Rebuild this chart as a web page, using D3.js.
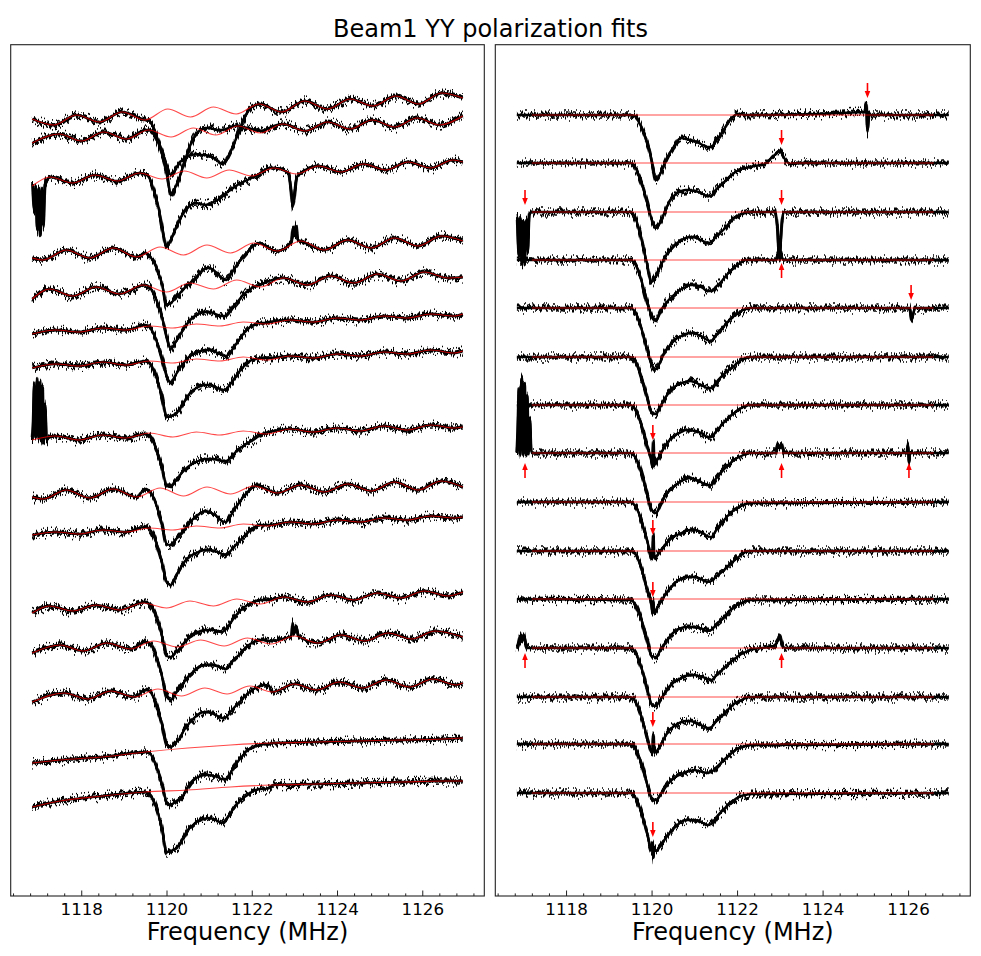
<!DOCTYPE html>
<html><head><meta charset="utf-8">
<script src="https://cdn.jsdelivr.net/npm/d3@7"></script>
<style>body{margin:0;background:#fff;}svg{display:block;font-family:"DejaVu Sans",sans-serif;}</style>
</head><body><svg id="chart" width="981" height="956"></svg>
<script>
// ---------------- DATA ----------------
const chartTitle = "Beam1 YY polarization fits";
const xLabel = "Frequency (MHz)";
const freqStart = 1116.85, freqEnd = 1126.95;
const xDomain = [1116.345, 1127.455];
const majorTicks = [1118, 1120, 1122, 1124, 1126];
// absorption region sampling grid (MHz)
const dipFreqs = [1119.5,1119.6,1119.7,1119.8,1119.9,1120.0,1120.1,1120.2,1120.3,1120.4,1120.5,1120.6,1120.7,1120.8,1120.9,1121.0,1121.1,1121.2,1121.3,1121.4,1121.5,1121.6,1121.7,1121.8,1121.9,1122.0,1122.1,1122.2,1122.3,1122.4];

// LEFT PANEL: trace offsets (arbitrary units)
const leftOffsets = [78.2,76.3,72.0,64.6,60.6,57.1,53.6,46.2,40.5,36.8,29.3,25.5,20.6,14.6,10.3];
// LEFT PANEL: baseline fit (ripple) knots [freq, value rel. to offset]
const leftFitKnots = [
 [[1116.85,-0.5],[1117.355,-1.1],[1117.89,-0.1],[1118.425,-0.8],[1118.96,0.2],[1119.495,-0.6],[1120.03,0.5],[1120.565,-0.3],[1121.1,0.7],[1121.635,0.0],[1122.17,1.0],[1122.705,0.2],[1123.24,1.3],[1123.775,0.5],[1124.31,1.5],[1124.845,0.8],[1125.38,1.8],[1125.915,1.0],[1126.45,2.1],[1126.95,1.6]],
 [[1116.85,-1.0],[1117.48,-0.1],[1118.005,-0.8],[1118.53,0.1],[1119.055,-0.6],[1119.58,0.3],[1120.105,-0.4],[1120.63,0.5],[1121.155,-0.2],[1121.68,0.7],[1122.205,0.0],[1122.73,0.9],[1123.255,0.2],[1123.78,1.1],[1124.305,0.4],[1124.83,1.3],[1125.355,0.6],[1125.88,1.5],[1126.405,0.8],[1126.95,1.7]],
 [[1116.85,-1.0],[1117.27,-0.1],[1117.795,-0.7],[1118.32,0.1],[1118.845,-0.5],[1119.37,0.3],[1119.895,-0.3],[1120.42,0.5],[1120.945,-0.2],[1121.47,0.6],[1121.995,0.0],[1122.52,0.8],[1123.045,0.2],[1123.57,1.0],[1124.095,0.4],[1124.62,1.2],[1125.145,0.6],[1125.67,1.4],[1126.195,0.8],[1126.72,1.6],[1126.95,1.4]],
 [[1116.85,-0.8],[1117.1,-1.0],[1117.65,0.0],[1118.2,-0.8],[1118.75,0.2],[1119.3,-0.7],[1119.85,0.3],[1120.4,-0.5],[1120.95,0.5],[1121.5,-0.3],[1122.05,0.7],[1122.6,-0.1],[1123.15,0.9],[1123.7,0.0],[1124.25,1.0],[1124.8,0.2],[1125.35,1.2],[1125.9,0.4],[1126.45,1.4],[1126.95,0.9]],
 [[1116.85,-0.9],[1117.26,0.1],[1117.8,-0.6],[1118.35,0.3],[1118.9,-0.4],[1119.45,0.5],[1120.0,-0.2],[1120.55,0.7],[1121.1,0.1],[1121.65,1.0],[1122.2,0.3],[1122.75,1.2],[1123.3,0.5],[1123.85,1.4],[1124.4,0.7],[1124.95,1.6],[1125.5,0.9],[1126.05,1.8],[1126.6,1.2],[1126.95,1.3]],
 [[1116.85,-0.9],[1117.4,-0.5],[1117.95,-0.7],[1118.5,-0.3],[1119.05,-0.5],[1119.6,-0.1],[1120.15,-0.3],[1120.7,0.1],[1121.25,-0.1],[1121.8,0.3],[1122.35,0.1],[1122.9,0.5],[1123.45,0.3],[1124.0,0.7],[1124.55,0.5],[1125.1,0.9],[1125.65,0.7],[1126.2,1.1],[1126.75,0.9],[1126.95,1.1]],
 [[1116.85,-0.8],[1117.4,-0.4],[1117.95,-0.6],[1118.5,-0.2],[1119.05,-0.5],[1119.6,-0.1],[1120.15,-0.3],[1120.7,0.1],[1121.25,-0.1],[1121.8,0.3],[1122.35,0.0],[1122.9,0.4],[1123.45,0.2],[1124.0,0.6],[1124.55,0.4],[1125.1,0.8],[1125.65,0.6],[1126.2,1.0],[1126.75,0.7],[1126.95,0.9]],
 [[1116.85,-0.6],[1117.4,-0.2],[1117.95,-0.6],[1118.5,-0.1],[1119.05,-0.4],[1119.6,0.1],[1120.15,-0.3],[1120.7,0.2],[1121.25,-0.1],[1121.8,0.3],[1122.35,0.0],[1122.9,0.5],[1123.45,0.2],[1124.0,0.6],[1124.55,0.3],[1125.1,0.8],[1125.65,0.4],[1126.2,0.9],[1126.75,0.6],[1126.95,0.7]],
 [[1116.85,-0.6],[1117.1,-0.8],[1117.65,0.1],[1118.2,-0.7],[1118.75,0.2],[1119.3,-0.6],[1119.85,0.3],[1120.4,-0.5],[1120.95,0.4],[1121.5,-0.3],[1122.05,0.5],[1122.6,-0.2],[1123.15,0.6],[1123.7,-0.1],[1124.25,0.7],[1124.8,0.0],[1125.35,0.9],[1125.9,0.1],[1126.45,1.0],[1126.95,0.4]],
 [[1116.85,-0.7],[1117.4,-0.4],[1117.95,-0.6],[1118.5,-0.2],[1119.05,-0.4],[1119.6,0.0],[1120.15,-0.2],[1120.7,0.2],[1121.25,0.0],[1121.8,0.4],[1122.35,0.2],[1122.9,0.6],[1123.45,0.4],[1124.0,0.8],[1124.55,0.6],[1125.1,1.0],[1125.65,0.8],[1126.2,1.2],[1126.75,1.0],[1126.95,1.1]],
 [[1116.85,-1.0],[1117.25,-0.3],[1117.8,-0.8],[1118.35,-0.2],[1118.9,-0.7],[1119.45,0.0],[1120.0,-0.5],[1120.55,0.2],[1121.1,-0.3],[1121.65,0.4],[1122.2,-0.1],[1122.75,0.6],[1123.3,0.1],[1123.85,0.8],[1124.4,0.3],[1124.95,1.0],[1125.5,0.5],[1126.05,1.2],[1126.6,0.7],[1126.95,1.1]],
 [[1116.85,-1.2],[1117.5,-0.4],[1118.05,-1.0],[1118.6,-0.2],[1119.15,-0.8],[1119.7,0.0],[1120.25,-0.6],[1120.8,0.1],[1121.35,-0.5],[1121.9,0.3],[1122.45,-0.3],[1123.0,0.5],[1123.55,-0.2],[1124.1,0.6],[1124.65,0.0],[1125.2,0.8],[1125.75,0.2],[1126.3,1.0],[1126.95,0.4]],
 [[1116.85,-1.2],[1117.6,-0.3],[1118.15,-0.9],[1118.7,-0.1],[1119.25,-0.7],[1119.8,0.1],[1120.35,-0.6],[1120.9,0.2],[1121.42,-0.4],[1121.95,0.4],[1122.48,-0.2],[1123.0,0.6],[1123.52,0.0],[1124.05,0.8],[1124.6,0.2],[1125.15,1.0],[1125.7,0.3],[1126.25,1.1],[1126.8,0.5],[1126.95,0.7]],
 [[1116.85,-1.3],[1117.5,-1.0],[1118.5,-0.7],[1119.5,-0.2],[1120.5,0.2],[1121.5,0.5],[1122.5,0.7],[1123.5,0.8],[1124.5,0.9],[1125.5,1.0],[1126.5,1.1],[1126.95,1.2]],
 [[1116.85,-1.4],[1117.5,-0.8],[1118.5,-0.3],[1119.5,0.1],[1120.5,0.3],[1121.5,0.6],[1122.5,0.8],[1123.5,0.9],[1124.5,1.0],[1125.5,1.1],[1126.5,1.2],[1126.95,1.2]]
];
// LEFT PANEL: measured spectrum across the absorption (values at dipFreqs, rel. to offset)
const leftDips = [
 [-0.6,-0.7,-1.4,-2.6,-3.8,-5.1,-6.1,-5.6,-4.9,-4.5,-4.2,-4.1,-4.0,-4.1,-4.1,-4.2,-4.4,-4.7,-5.0,-4.6,-3.8,-2.8,-1.7,-0.6,0.2,0.7,0.9,1.0,0.9,0.7],
 [0.3,0.3,-0.1,-0.9,-2.2,-3.9,-6.2,-5.5,-4.5,-3.2,-1.9,-0.8,-0.1,0.3,0.5,0.5,0.4,0.3,0.3,0.4,0.6,0.7,0.7,0.6,0.5,0.4,0.3,0.2,0.3,0.5],
 [0.2,-0.2,-1.4,-2.9,-5.2,-7.1,-6.4,-5.4,-4.4,-3.7,-3.2,-2.8,-2.7,-2.8,-2.9,-2.8,-2.6,-2.4,-2.1,-1.7,-1.4,-1.1,-0.8,-0.6,-0.4,-0.2,0.0,0.3,0.6,0.8],
 [-0.3,-0.6,-1.2,-2.2,-3.5,-5.5,-5.3,-4.9,-4.4,-3.9,-3.5,-3.1,-2.7,-2.2,-1.9,-1.8,-2.0,-2.4,-2.8,-3.0,-2.5,-1.8,-1.2,-0.7,-0.2,0.3,0.6,0.7,0.5,0.2],
 [0.5,0.3,-0.4,-1.4,-2.8,-4.6,-5.9,-5.3,-4.6,-3.9,-3.3,-2.8,-2.5,-2.3,-2.2,-2.2,-2.3,-2.5,-2.6,-2.6,-2.1,-1.5,-1.0,-0.5,-0.1,0.2,0.4,0.5,0.7,0.9],
 [0.0,-0.2,-0.9,-2.0,-3.4,-5.1,-5.7,-5.1,-4.4,-3.8,-3.3,-3.0,-2.8,-2.6,-2.5,-2.5,-2.6,-2.8,-3.0,-3.1,-2.7,-2.1,-1.5,-0.9,-0.4,-0.1,0.1,0.2,0.2,0.3],
 [-0.1,-0.3,-1.0,-2.2,-3.8,-5.7,-5.6,-5.4,-5.0,-4.3,-3.6,-3.1,-2.8,-2.6,-2.5,-2.5,-2.6,-2.8,-3.0,-2.9,-2.4,-1.8,-1.2,-0.7,-0.3,0.0,0.1,0.2,0.2,0.2],
 [0.0,-0.2,-0.9,-2.0,-3.4,-5.2,-5.3,-4.7,-4.2,-3.7,-3.3,-3.0,-2.8,-2.6,-2.5,-2.5,-2.5,-2.6,-2.7,-2.7,-2.4,-1.9,-1.5,-1.2,-0.9,-0.7,-0.4,-0.1,0.1,0.2],
 [0.2,0.0,-0.7,-1.9,-3.4,-5.3,-5.4,-4.9,-4.5,-4.0,-3.4,-2.9,-2.5,-2.2,-2.0,-2.1,-2.3,-2.6,-3.0,-3.1,-2.5,-1.8,-1.2,-0.6,-0.1,0.3,0.5,0.5,0.3,0.1],
 [0.1,-0.1,-0.8,-2.0,-3.5,-5.4,-5.7,-5.0,-4.2,-3.5,-3.0,-2.7,-2.5,-2.3,-2.2,-2.2,-2.3,-2.4,-2.6,-2.7,-2.3,-1.8,-1.4,-0.9,-0.5,-0.1,0.2,0.3,0.3,0.3],
 [0.1,-0.1,-0.8,-1.9,-3.4,-5.3,-5.4,-5.0,-4.6,-4.1,-3.6,-3.3,-3.0,-2.8,-2.7,-2.7,-2.7,-2.8,-2.9,-2.6,-2.0,-1.4,-0.9,-0.5,-0.2,0.0,0.2,0.3,0.3,0.3],
 [-0.1,-0.2,-0.9,-2.1,-3.6,-5.5,-5.9,-5.3,-4.8,-4.2,-3.6,-3.2,-2.8,-2.5,-2.4,-2.4,-2.4,-2.5,-2.7,-2.8,-2.3,-1.8,-1.4,-0.9,-0.5,-0.2,0.0,0.1,0.1,0.0],
 [0.0,-0.1,-0.8,-2.0,-3.5,-5.4,-5.7,-5.3,-4.9,-4.1,-3.5,-3.0,-2.6,-2.3,-2.2,-2.2,-2.4,-2.6,-2.8,-2.7,-2.2,-1.7,-1.3,-0.8,-0.4,0.0,0.2,0.4,0.5,0.4],
 [-0.2,-0.3,-1.0,-2.1,-3.5,-5.2,-5.5,-5.2,-4.9,-4.5,-3.7,-3.1,-2.8,-2.6,-2.5,-2.5,-2.6,-2.7,-2.9,-2.9,-2.3,-1.6,-1.0,-0.5,0.0,0.2,0.4,0.5,0.6,0.6],
 [0.1,-0.1,-0.8,-2.0,-3.7,-5.9,-5.8,-5.6,-5.2,-4.5,-3.7,-3.3,-2.9,-2.7,-2.6,-2.5,-2.6,-2.8,-3.0,-2.6,-2.0,-1.4,-0.9,-0.5,-0.2,0.1,0.3,0.4,0.4,0.5]
];
// LEFT PANEL: narrow RFI features [freq, value rel. to offset]
const leftFeatures = [
 [], [],
 [[[1116.86,-0.8],[1116.9,-3.6],[1116.93,-1.0],[1116.97,-5.4],[1117.0,-1.2],[1117.04,-6.0],[1117.08,-1.4],[1117.11,-5.0],[1117.15,-0.8]],
  [[1122.86,0.3],[1122.92,-1.4],[1122.96,-3.1],[1123.0,-2.0],[1123.05,-0.2],[1123.1,0.1]]],
 [[[1122.93,0.8],[1122.97,2.2],[1123.0,1.4],[1123.04,2.4],[1123.08,1.0]]],
 [], [], [],
 [[[1116.87,0.9],[1116.9,4.9],[1116.93,-0.4],[1116.96,5.6],[1117.0,-0.6],[1117.03,5.2],[1117.06,-0.7],[1117.09,4.6],[1117.12,-0.8],[1117.15,2.9],[1117.19,-0.6],[1117.23,-0.4]]],
 [], [], [],
 [[[1122.93,0.5],[1122.96,1.8],[1123.0,0.9],[1123.04,1.5],[1123.1,0.5]]],
 [], [], []
];

// RIGHT PANEL: trace offsets (flat baseline fits)
const rightOffsets = [78.1,73.3,68.4,63.6,58.8,53.9,49.1,44.3,39.4,34.5,29.7,24.8,19.9,15.2,10.3];
const rightFitStart = 1117.2, rightFitEnd = 1126.6;
const rightDips = [
 [0.0,-0.1,-0.7,-1.6,-2.8,-4.5,-6.5,-5.9,-4.9,-4.0,-3.3,-2.6,-2.3,-2.4,-2.5,-2.6,-2.8,-3.0,-3.2,-3.2,-2.6,-2.1,-1.4,-0.7,-0.2,0.1,0.1,0.0,0.0,0.0],
 [0.0,-0.3,-1.2,-2.5,-4.0,-5.6,-6.5,-6.0,-5.0,-4.0,-3.4,-3.0,-2.8,-2.7,-2.7,-2.8,-2.9,-3.1,-3.3,-3.3,-2.7,-2.3,-1.9,-1.5,-1.1,-0.8,-0.6,-0.5,-0.4,-0.3],
 [0.0,-0.4,-1.6,-3.4,-5.3,-7.0,-6.4,-5.5,-4.6,-4.0,-3.5,-3.1,-2.8,-2.6,-2.5,-2.5,-2.7,-2.9,-3.1,-3.0,-2.5,-2.1,-1.7,-1.2,-0.7,-0.4,-0.2,-0.1,0.0,0.0],
 [0.0,-0.3,-1.2,-2.6,-4.2,-5.6,-6.1,-5.2,-4.5,-4.0,-3.6,-3.2,-2.9,-2.7,-2.5,-2.5,-2.6,-2.8,-3.1,-3.1,-2.7,-2.3,-1.8,-1.3,-0.9,-0.5,-0.2,0.0,0.0,0.0],
 [0.0,-0.3,-1.2,-2.6,-4.2,-5.6,-6.1,-5.4,-4.5,-3.9,-3.4,-3.0,-2.8,-2.6,-2.5,-2.5,-2.7,-2.9,-3.2,-3.3,-2.8,-2.3,-1.8,-1.3,-0.9,-0.6,-0.3,-0.1,0.0,0.0],
 [0.0,-0.3,-1.2,-2.6,-4.1,-5.5,-5.7,-5.0,-4.2,-3.6,-3.1,-2.8,-2.6,-2.5,-2.4,-2.5,-2.7,-2.9,-3.1,-3.1,-2.6,-2.1,-1.7,-1.3,-1.0,-0.6,-0.3,-0.1,0.0,0.0],
 [0.0,-0.3,-1.2,-2.6,-4.2,-5.7,-5.7,-5.0,-4.2,-3.6,-3.2,-2.9,-2.7,-2.5,-2.5,-2.6,-2.7,-2.9,-3.2,-3.2,-2.7,-2.2,-1.7,-1.3,-0.9,-0.6,-0.3,-0.1,0.0,0.0],
 [0.0,-0.3,-1.2,-2.6,-4.2,-5.7,-6.0,-5.2,-4.4,-3.8,-3.4,-3.1,-2.8,-2.6,-2.5,-2.6,-2.8,-3.0,-3.2,-3.2,-2.6,-2.1,-1.6,-1.2,-0.8,-0.5,-0.3,-0.1,0.0,0.0],
 [0.0,-0.3,-1.1,-2.4,-3.9,-5.5,-5.5,-4.9,-4.4,-3.9,-3.5,-3.3,-3.1,-2.9,-2.8,-2.8,-2.9,-3.1,-3.4,-3.5,-2.9,-2.3,-1.8,-1.3,-0.9,-0.6,-0.4,-0.2,-0.1,-0.1],
 [0.0,-0.2,-1.0,-2.3,-3.9,-5.5,-5.9,-5.2,-4.5,-3.9,-3.4,-3.0,-2.8,-2.6,-2.6,-2.6,-2.7,-2.9,-3.1,-3.0,-2.6,-2.2,-1.9,-1.5,-1.1,-0.7,-0.4,-0.1,0.0,0.0],
 [-0.1,-0.4,-1.3,-2.6,-4.2,-5.7,-5.8,-5.2,-4.5,-3.9,-3.4,-3.1,-2.9,-2.8,-2.8,-2.8,-2.9,-3.0,-3.2,-3.1,-2.6,-2.2,-1.8,-1.3,-0.9,-0.6,-0.4,-0.2,-0.1,-0.1],
 [0.0,-0.3,-1.2,-2.5,-4.1,-5.6,-5.8,-5.2,-4.6,-4.0,-3.5,-3.2,-3.0,-2.8,-2.7,-2.7,-2.8,-2.9,-3.1,-3.2,-2.8,-2.4,-2.0,-1.6,-1.2,-0.9,-0.6,-0.4,-0.2,-0.1],
 [0.0,-0.3,-1.2,-2.5,-4.1,-5.5,-5.5,-4.9,-4.1,-3.4,-3.0,-2.7,-2.5,-2.4,-2.4,-2.5,-2.7,-2.9,-3.1,-3.0,-2.5,-2.1,-1.7,-1.2,-0.8,-0.5,-0.3,-0.1,0.0,0.0],
 [0.0,-0.3,-1.2,-2.5,-4.1,-5.4,-5.6,-5.1,-4.5,-3.9,-3.5,-3.2,-3.0,-2.8,-2.7,-2.6,-2.7,-2.8,-2.9,-2.8,-2.4,-2.0,-1.6,-1.2,-0.8,-0.5,-0.3,-0.2,-0.1,-0.1],
 [0.0,-0.3,-1.2,-2.5,-4.1,-5.7,-5.8,-5.3,-4.7,-4.1,-3.6,-3.2,-2.9,-2.7,-2.7,-2.7,-2.8,-3.0,-3.2,-3.1,-2.5,-2.0,-1.6,-1.1,-0.8,-0.5,-0.3,-0.2,-0.1,-0.1]
];
const rightFeatures = [
 [[[1124.98,0.3],[1125.02,1.2],[1125.05,-1.7],[1125.09,0.0]]],
 [[[1122.6,-0.2],[1122.85,0.7],[1123.0,1.2],[1123.1,0.5],[1123.25,-0.1],[1123.4,0.0]]],
 [[[1116.86,-0.5],[1116.9,-4.5],[1116.93,-0.5],[1116.97,-5.3],[1117.0,-1.0],[1117.03,-5.0],[1117.07,-0.8],[1117.1,-4.0],[1117.14,-0.3],[1117.18,0.0]],
  [[1122.88,0.0],[1122.94,-1.5],[1122.99,-4.8],[1123.02,-3.0],[1123.06,-0.5],[1123.1,0.0]]],
 [[[1122.9,0.0],[1122.96,0.6],[1123.0,1.0],[1123.04,0.4],[1123.1,0.0]]],
 [[[1126.04,0.0],[1126.08,-1.2],[1126.12,-0.6],[1126.16,0.0]]],
 [],
 [[[1120.02,-6.1],[1120.04,-3.6],[1120.06,-6.0]]],
 [[[1116.87,2.0],[1116.9,6.5],[1116.93,-0.3],[1116.96,7.5],[1117.0,0.0],[1117.03,7.0],[1117.06,-0.2],[1117.09,5.8],[1117.12,0.0],[1117.15,3.5],[1117.19,0.0],[1117.23,0.0]],
  [[1122.9,0.0],[1122.97,0.8],[1123.0,0.5],[1123.04,0.9],[1123.1,0.0]],
  [[1125.97,0.0],[1126.0,0.9],[1126.02,-0.9],[1126.05,0.0]]],
 [[[1120.02,-5.7],[1120.04,-3.4],[1120.06,-5.6]]],
 [[[1120.02,-6.3],[1120.04,-5.0],[1120.06,-6.2]]],
 [],
 [[[1116.88,0.3],[1116.93,1.2],[1116.97,0.6],[1117.01,1.3],[1117.06,0.4],[1117.12,0.0]],
  [[1122.85,0.2],[1122.95,0.7],[1123.0,1.3],[1123.04,0.6],[1123.12,0.0]]],
 [[[1120.02,-5.6],[1120.04,-3.7],[1120.06,-5.6]]],
 [],
 [[[1120.02,-5.0],[1120.04,-6.5],[1120.06,-5.5]]]
];
// RIGHT PANEL: red marker arrows
const arrowTrace = [0,1,2,2,3,4,6,7,7,7,8,9,11,11,12,14];
const arrowFreq  = [1125.05,1123.04,1117.04,1123.04,1123.04,1126.07,1120.03,1117.04,1123.04,1126.02,1120.03,1120.03,1117.04,1123.04,1120.03,1120.03];
const arrowTip   = [1.7,1.8,0.7,0.7,-0.3,0.8,-3.5,-1.0,-1.0,-1.0,-3.3,-4.6,-0.5,-0.5,-3.0,-4.4];
const arrowDir   = ["down","down","down","down","up","down","down","up","up","up","down","down","up","up","down","down"];

// ---------------- LAYOUT ----------------
const plotTop = 44.7, plotBottom = 896;
const panels = [{x0:10.7, x1:484.3}, {x0:495.3, x1:970.3}];
const svg = d3.select("#chart");
const y = d3.scaleLinear().domain([0, 85.13]).range([plotBottom, plotTop]);

// textures for the noisy measured spectra (styling only)
const defs = svg.append("defs");
function makeNoise(id, freq, seed, slope, scale) {
  const flt = defs.append("filter").attr("id",id).attr("filterUnits","userSpaceOnUse")
    .attr("x",0).attr("y",0).attr("width",981).attr("height",956)
    .attr("color-interpolation-filters","sRGB");
  flt.append("feTurbulence").attr("type","fractalNoise").attr("baseFrequency",freq)
    .attr("numOctaves",2).attr("seed",seed).attr("result","turb");
  const ct = flt.append("feComponentTransfer").attr("in","turb").attr("result","map");
  ct.append("feFuncR").attr("type","linear").attr("slope",0).attr("intercept",0.5);
  ct.append("feFuncG").attr("type","linear").attr("slope",slope).attr("intercept",0.5 - slope*0.5);
  ct.append("feFuncA").attr("type","linear").attr("slope",0).attr("intercept",1);
  flt.append("feDisplacementMap").attr("in","SourceGraphic").attr("in2","map")
    .attr("scale",scale).attr("xChannelSelector","R").attr("yChannelSelector","G");
}
makeNoise("noiseA", "0.6 0.012", 5, 2.0, 7);
makeNoise("noiseB", "0.9 0.012", 17, 2.2, 11);

function blackPoints(offset, knots, dip, feats) {
  const spans = feats.map(g => [g[0][0]-0.015, g[g.length-1][0]+0.015]);
  const inSpan = f => spans.some(s => f >= s[0] && f <= s[1]);
  const lo = dipFreqs[0]-0.05, hi = dipFreqs[dipFreqs.length-1]+0.05;
  const pts = [];
  knots.forEach(k => { if ((k[0] < lo || k[0] > hi) && !inSpan(k[0])) pts.push(k); });
  dipFreqs.forEach((f,i) => { if (!inSpan(f)) pts.push([f, dip[i]]); });
  feats.forEach(g => g.forEach(p => pts.push(p)));
  pts.sort((a,b) => a[0]-b[0]);
  return pts.map(p => [p[0], offset + p[1]]);
}

panels.forEach((p, pi) => {
  const x = d3.scaleLinear().domain(xDomain).range([p.x0, p.x1]);
  const line = d3.line().x(d => x(d[0])).y(d => y(d[1])).curve(d3.curveMonotoneX);
  const g = svg.append("g");

  const offsets = pi === 0 ? leftOffsets : rightOffsets;
  const dips = pi === 0 ? leftDips : rightDips;
  const feats = pi === 0 ? leftFeatures : rightFeatures;
  const fits = pi === 0 ? leftFitKnots
    : offsets.map(() => [[rightFitStart, 0], [rightFitEnd, 0]]);
  const blackKnots = pi === 0 ? leftFitKnots
    : offsets.map(() => [[freqStart, 0], [freqEnd, 0]]);

  const paths = offsets.map((off, i) => line(blackPoints(off, blackKnots[i], dips[i], feats[i])));
  const layer = (filter, width) => {
    const gg = g.append("g");
    if (filter) gg.attr("filter", `url(#${filter})`);
    paths.forEach(d => gg.append("path").attr("d", d).attr("fill","none").attr("stroke","#000")
      .attr("stroke-width", width).attr("stroke-linejoin","round"));
  };
  layer(null, 2.4);        // solid core
  layer("noiseA", 3.0);    // dense jitter band
  layer("noiseB", 1.5);    // sparse spikes

  const gr = g.append("g");
  offsets.forEach((off, i) => {
    gr.append("path").attr("d", line(fits[i].map(k => [k[0], off + k[1]])))
      .attr("fill","none").attr("stroke","#ff0000").attr("stroke-opacity",0.72)
      .attr("stroke-width",1.2);
  });

  if (pi === 1) {
    const ga = g.append("g").attr("fill","#ff0000").attr("stroke","#ff0000");
    arrowTrace.forEach((t, i) => {
      const ax = x(arrowFreq[i]);
      const ay = y(offsets[t] + arrowTip[i]);
      const s = arrowDir[i] === "down" ? -1 : 1;
      ga.append("line").attr("x1",ax).attr("x2",ax).attr("y1",ay + s*15).attr("y2",ay + s*5)
        .attr("stroke-width",1.6);
      ga.append("path").attr("stroke","none")
        .attr("d",`M${ax},${ay} L${ax-2.8},${ay + s*7} L${ax+2.8},${ay + s*7} Z`);
    });
  }

  // frame
  g.append("rect").attr("x",p.x0).attr("y",plotTop).attr("width",p.x1-p.x0).attr("height",plotBottom-plotTop)
    .attr("fill","none").attr("stroke","#222").attr("stroke-width",1.1);

  // axes (inward ticks)
  const minor = d3.range(0, 28).map(k => 1116.4 + 0.4*k)
    .filter(v => v < xDomain[1] && !majorTicks.some(m => Math.abs(m - v) < 1e-6));
  const axMinor = g.append("g").attr("transform",`translate(0,${plotBottom})`)
    .call(d3.axisBottom(x).tickValues(minor).tickSize(-2.6).tickFormat(""));
  axMinor.select(".domain").remove();
  const axMajor = g.append("g").attr("transform",`translate(0,${plotBottom})`)
    .call(d3.axisBottom(x).tickValues(majorTicks).tickSize(-5.5).tickPadding(7.6).tickFormat(d3.format("d")));
  axMajor.select(".domain").remove();
  axMajor.selectAll("text").attr("font-size",16.7).attr("font-family","DejaVu Sans").attr("fill","#000");
  g.selectAll(".tick line").attr("stroke","#222");

  g.append("text").attr("x",(p.x0+p.x1)/2).attr("y",940).attr("text-anchor","middle")
    .attr("font-size",24).attr("fill","#000").text(xLabel);
});

svg.append("text").attr("x",490.5).attr("y",37).attr("text-anchor","middle")
  .attr("font-size",24).attr("fill","#000").text(chartTitle);
</script>
</body></html>
